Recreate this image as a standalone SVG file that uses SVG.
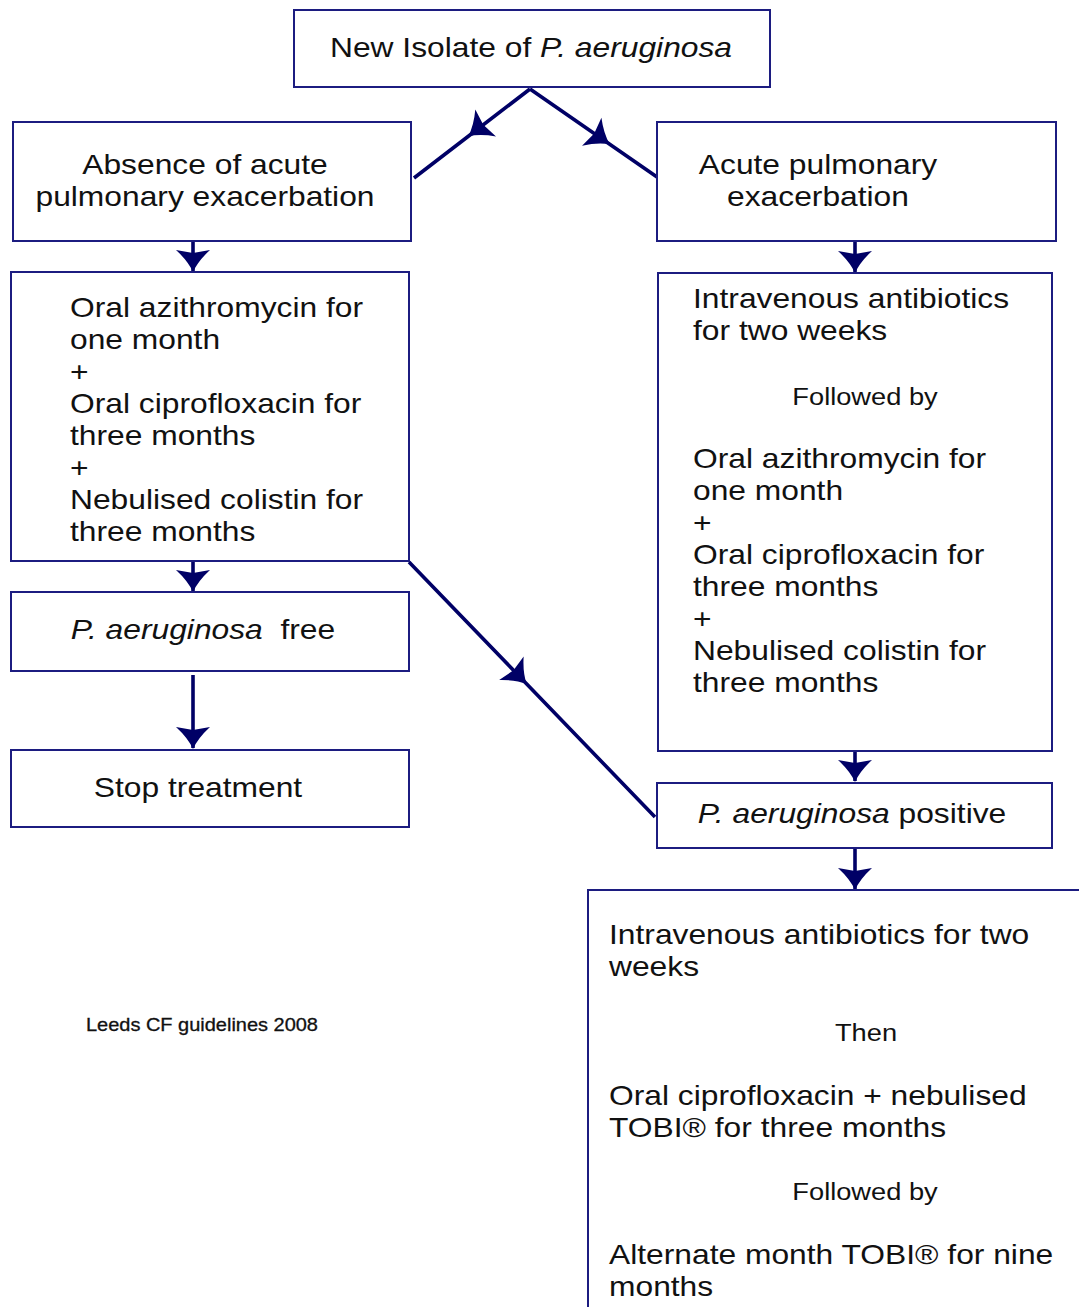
<svg xmlns="http://www.w3.org/2000/svg" width="1079" height="1307" viewBox="0 0 1079 1307">
<style>
.box{fill:#ffffff;stroke:#1c1c80;stroke-width:2}
.t{font-family:"Liberation Sans",Arial,sans-serif;font-size:28px;fill:#111111}
.s{font-family:"Liberation Sans",Arial,sans-serif;font-size:24px;fill:#111111}
.f{font-family:"Liberation Sans",Arial,sans-serif;font-size:18px;fill:#111111;stroke:#111111;stroke-width:0.3}
.m{text-anchor:middle}
.i{font-style:italic}
.c{fill:none;stroke:#000066;stroke-width:3.6}
</style>
<defs>
<marker id="ah" viewBox="-24 -19 27 38" markerWidth="27" markerHeight="38" refX="0" refY="0" orient="auto" markerUnits="userSpaceOnUse">
<path d="M1,0 Q-10,-5 -21,-17 L-18,0 L-21,17 Q-10,5 1,0 Z" fill="#000066"/>
</marker>
</defs>
<rect width="1079" height="1307" fill="#ffffff"/>
<g id="connectors">
<polyline class="c" points="530,89 469,135.8 414,178" marker-mid="url(#ah)"/>
<polyline class="c" points="530,89 609,143.7 657,177" marker-mid="url(#ah)"/>
<polyline class="c" points="409,562 526,683.3 655,817" marker-mid="url(#ah)"/>
<line class="c" x1="193" y1="241" x2="193" y2="271" marker-end="url(#ah)"/>
<line class="c" x1="193" y1="561" x2="193" y2="591" marker-end="url(#ah)"/>
<line class="c" x1="193" y1="675" x2="193" y2="748" marker-end="url(#ah)"/>
<line class="c" x1="855" y1="241" x2="855" y2="272" marker-end="url(#ah)"/>
<line class="c" x1="855" y1="751" x2="855" y2="781" marker-end="url(#ah)"/>
<line class="c" x1="855" y1="848" x2="855" y2="889" marker-end="url(#ah)"/>
</g>
<g id="n-new">
<rect class="box" x="294" y="10" width="476" height="77"/>
<text class="t m" transform="translate(531,57) scale(1.135,1)">New Isolate of <tspan class="i">P. aeruginosa</tspan></text>
</g>
<g id="n-absence">
<rect class="box" x="13" y="122" width="398" height="119"/>
<text class="t m" transform="translate(205,174) scale(1.135,1)">Absence of acute</text>
<text class="t m" transform="translate(205,206) scale(1.135,1)">pulmonary exacerbation</text>
</g>
<g id="n-acute">
<rect class="box" x="657" y="122" width="399" height="119"/>
<text class="t m" transform="translate(818,174) scale(1.135,1)">Acute pulmonary</text>
<text class="t m" transform="translate(818,206) scale(1.135,1)">exacerbation</text>
</g>
<g id="n-left-treat">
<rect class="box" x="11" y="272" width="398" height="289"/>
<text class="t" transform="translate(70,317) scale(1.135,1)">Oral azithromycin for</text>
<text class="t" transform="translate(70,349) scale(1.135,1)">one month</text>
<text class="t" transform="translate(70,381) scale(1.135,1)">+</text>
<text class="t" transform="translate(70,413) scale(1.135,1)">Oral ciprofloxacin for</text>
<text class="t" transform="translate(70,445) scale(1.135,1)">three months</text>
<text class="t" transform="translate(70,477) scale(1.135,1)">+</text>
<text class="t" transform="translate(70,509) scale(1.135,1)">Nebulised colistin for</text>
<text class="t" transform="translate(70,541) scale(1.135,1)">three months</text>
</g>
<g id="n-free">
<rect class="box" x="11" y="592" width="398" height="79"/>
<text class="t m" xml:space="preserve" transform="translate(203,639) scale(1.135,1)"><tspan class="i">P. aeruginosa</tspan>  free</text>
</g>
<g id="n-stop">
<rect class="box" x="11" y="750" width="398" height="77"/>
<text class="t m" transform="translate(198,797) scale(1.135,1)">Stop treatment</text>
</g>
<g id="n-right-treat">
<rect class="box" x="658" y="273" width="394" height="478"/>
<text class="t" transform="translate(693,308) scale(1.135,1)">Intravenous antibiotics</text>
<text class="t" transform="translate(693,340) scale(1.135,1)">for two weeks</text>
<text class="s m" transform="translate(865,405) scale(1.135,1)">Followed by</text>
<text class="t" transform="translate(693,468) scale(1.135,1)">Oral azithromycin for</text>
<text class="t" transform="translate(693,500) scale(1.135,1)">one month</text>
<text class="t" transform="translate(693,532) scale(1.135,1)">+</text>
<text class="t" transform="translate(693,564) scale(1.135,1)">Oral ciprofloxacin for</text>
<text class="t" transform="translate(693,596) scale(1.135,1)">three months</text>
<text class="t" transform="translate(693,628) scale(1.135,1)">+</text>
<text class="t" transform="translate(693,660) scale(1.135,1)">Nebulised colistin for</text>
<text class="t" transform="translate(693,692) scale(1.135,1)">three months</text>
</g>
<g id="n-positive">
<rect class="box" x="657" y="783" width="395" height="65"/>
<text class="t m" transform="translate(852,823) scale(1.135,1)"><tspan class="i">P. aeruginosa</tspan> positive</text>
</g>
<g id="n-final">
<rect class="box" x="588" y="890" width="520" height="440"/>
<text class="t" transform="translate(609,944) scale(1.135,1)">Intravenous antibiotics for two</text>
<text class="t" transform="translate(609,976) scale(1.135,1)">weeks</text>
<text class="s m" transform="translate(866,1041) scale(1.135,1)">Then</text>
<text class="t" transform="translate(609,1105) scale(1.135,1)">Oral ciprofloxacin + nebulised</text>
<text class="t" transform="translate(609,1137) scale(1.135,1)">TOBI® for three months</text>
<text class="s m" transform="translate(865,1200) scale(1.135,1)">Followed by</text>
<text class="t" transform="translate(609,1264) scale(1.135,1)">Alternate month TOBI® for nine</text>
<text class="t" transform="translate(609,1296) scale(1.135,1)">months</text>
</g>
<g id="caption">
<text class="f" transform="translate(86,1031) scale(1.11,1)">Leeds CF guidelines 2008</text>
</g>
</svg>
